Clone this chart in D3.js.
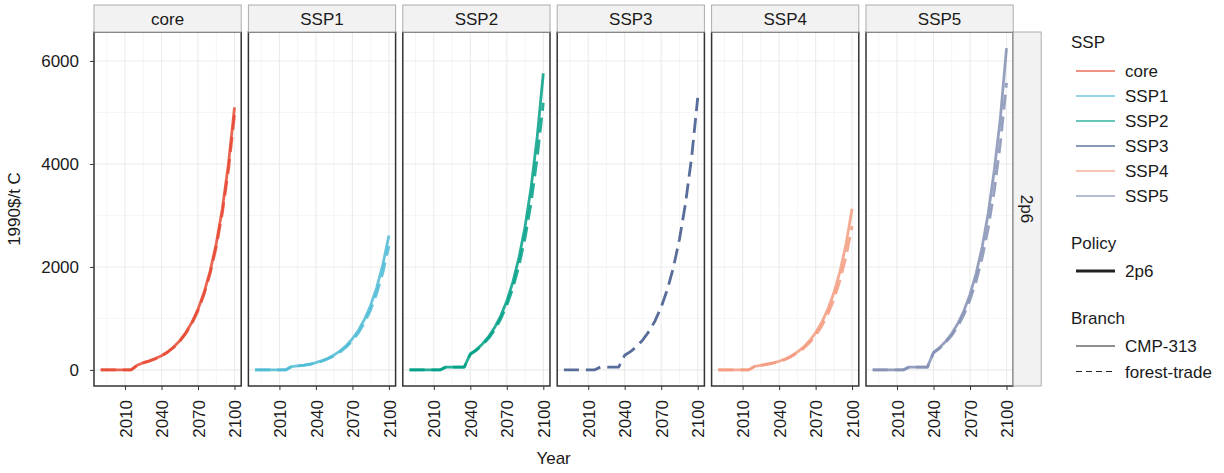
<!DOCTYPE html>
<html><head><meta charset="utf-8">
<script src="https://cdn.jsdelivr.net/npm/d3@7"></script>
<style>
body{margin:0;background:#fff;}
text{font-family:"Liberation Sans",Arial,sans-serif;fill:#1a1a1a;}
</style></head>
<body><svg id="c" width="1224" height="473"></svg>
<script>
// ---- data ----
const years = [1990,2005,2010,2015,2020,2025,2030,2035,2040,2045,2050,2055,2060,2065,2070,2075,2080,2085,2090,2095,2100];
const ssps = ["core","SSP1","SSP2","SSP3","SSP4","SSP5"];
const sspColors = ["#E64B35","#4DBBD5","#00A087","#3C5488","#F39B7F","#8491B4"];
const branches = ["CMP-313","forest-trade"];
const policies = ["2p6"];
const xTicks = [2010,2040,2070,2100];
const yTicks = [0,2000,4000,6000];

const core_CMP313   = [0,0,0,0,90,140,175,220,275,350,445,568,725,925,1180,1507,1923,2454,3131,3996,5100];
const core_forest   = [0,0,0,0,88,138,172,216,270,343,436,556,709,904,1152,1470,1875,2390,3045,3880,4950];
const SSP1_CMP313   = [0,0,0,0,65,80,92,110,140,179,228,291,371,474,604,771,984,1256,1603,2045,2610];
const SSP1_forest   = [0,0,0,0,63,78,89,106,134,170,216,275,350,445,566,720,917,1167,1485,1890,2405];
const SSP2_CMP313   = [0,0,0,0,55,55,55,55,310,396,505,644,822,1049,1339,1708,2180,2782,3550,4530,5760];
const SSP2_forest   = [0,0,0,0,55,55,55,55,300,381,483,613,778,988,1254,1591,2019,2562,3251,4126,5185];
const SSP3_forest   = [0,0,0,0,55,55,55,55,285,360,460,587,749,956,1220,1557,1987,2536,3236,4130,5282];
const SSP4_CMP313   = [0,0,0,0,70,90,112,135,167,213,272,347,443,565,721,920,1174,1498,1911,2439,3130];
const SSP4_forest   = [0,0,0,0,68,87,108,130,160,203,258,327,415,527,669,849,1077,1367,1735,2202,2793];
const SSP5_CMP313   = [0,0,0,0,55,55,55,55,340,434,553,706,901,1149,1467,1871,2388,3047,3888,4900,6250];
const SSP5_forest   = [0,0,0,0,55,55,55,55,330,418,529,670,848,1073,1359,1720,2178,2757,3490,4418,5573];

const series = [
  {ssp:"core", branch:"CMP-313", values:core_CMP313},
  {ssp:"core", branch:"forest-trade", values:core_forest},
  {ssp:"SSP1", branch:"CMP-313", values:SSP1_CMP313},
  {ssp:"SSP1", branch:"forest-trade", values:SSP1_forest},
  {ssp:"SSP2", branch:"CMP-313", values:SSP2_CMP313},
  {ssp:"SSP2", branch:"forest-trade", values:SSP2_forest},
  {ssp:"SSP3", branch:"forest-trade", values:SSP3_forest},
  {ssp:"SSP4", branch:"CMP-313", values:SSP4_CMP313},
  {ssp:"SSP4", branch:"forest-trade", values:SSP4_forest},
  {ssp:"SSP5", branch:"CMP-313", values:SSP5_CMP313},
  {ssp:"SSP5", branch:"forest-trade", values:SSP5_forest}
];

// ---- layout ----
const FS = 17;
const svg = d3.select("#c");
const panelLeft = 94, panelW = 147.2, panelGap = 7.2;
const panelTop = 32, panelBot = 386, stripTop = 5;
const color = d3.scaleOrdinal().domain(ssps).range(sspColors);
const dashOf = b => b === "forest-trade" ? "15,7" : null;

const xMin = d3.min(years), xMax = d3.max(years);
const xPad = (xMax - xMin) * 0.05;
const allVals = series.flatMap(s => s.values);
const yMin = d3.min(allVals), yMax = d3.max(allVals);
const yPad = (yMax - yMin) * 0.05;
const y = d3.scaleLinear().domain([yMin - yPad, yMax + yPad]).range([panelBot, panelTop]);
const yMinor = [1000,3000,5000];
const xMinor = [1995,2025,2055,2085];

ssps.forEach((s, i) => {
  const x0 = panelLeft + i * (panelW + panelGap);
  const x = d3.scaleLinear().domain([xMin - xPad, xMax + xPad]).range([x0, x0 + panelW]);
  const g = svg.append("g");
  g.append("rect").attr("x", x0).attr("y", panelTop).attr("width", panelW).attr("height", panelBot - panelTop).attr("fill", "#fff");
  yMinor.forEach(v => g.append("line").attr("x1", x0).attr("x2", x0 + panelW).attr("y1", y(v)).attr("y2", y(v)).attr("stroke", "#F3F3F3").attr("stroke-width", 0.8));
  xMinor.forEach(v => g.append("line").attr("y1", panelTop).attr("y2", panelBot).attr("x1", x(v)).attr("x2", x(v)).attr("stroke", "#F3F3F3").attr("stroke-width", 0.8));
  yTicks.forEach(v => g.append("line").attr("x1", x0).attr("x2", x0 + panelW).attr("y1", y(v)).attr("y2", y(v)).attr("stroke", "#EBEBEB").attr("stroke-width", 1.1));
  xTicks.forEach(v => g.append("line").attr("y1", panelTop).attr("y2", panelBot).attr("x1", x(v)).attr("x2", x(v)).attr("stroke", "#EBEBEB").attr("stroke-width", 1.1));

  const line = d3.line().x((d, k) => x(years[k])).y(d => y(d));
  series.filter(d => d.ssp === s).forEach(d => {
    g.append("path").attr("d", line(d.values)).attr("fill", "none")
      .attr("stroke", color(s)).attr("stroke-opacity", 0.85).attr("stroke-width", 2.8)
      .attr("stroke-dasharray", dashOf(d.branch)).attr("stroke-linejoin", "round");
  });

  g.append("rect").attr("x", x0).attr("y", panelTop).attr("width", panelW).attr("height", panelBot - panelTop)
    .attr("fill", "none").attr("stroke", "#333").attr("stroke-width", 1.5);

  g.append("rect").attr("x", x0).attr("y", stripTop).attr("width", panelW).attr("height", panelTop - stripTop)
    .attr("fill", "#F2F2F2").attr("stroke", "#ABABAB").attr("stroke-width", 1);
  g.append("text").attr("x", x0 + panelW / 2).attr("y", (stripTop + panelTop) / 2)
    .attr("dy", "0.36em").attr("text-anchor", "middle").attr("font-size", FS).text(s);

  const xa = g.append("g").attr("transform", `translate(0,${panelBot})`)
    .call(d3.axisBottom(x).tickValues(xTicks).tickSize(4).tickPadding(3).tickFormat(d3.format("d")));
  xa.select(".domain").remove();
  xa.selectAll(".tick line").attr("stroke", "#333");
  xa.selectAll("text").attr("transform", "rotate(-90)").attr("text-anchor", "end")
    .attr("x", -14).attr("y", 0).attr("dy", "0.36em").attr("font-size", FS).attr("fill", "#1a1a1a");

  if (i === 0) {
    const ya = g.append("g").attr("transform", `translate(${x0},0)`)
      .call(d3.axisLeft(y).tickValues(yTicks).tickSize(4).tickPadding(11).tickFormat(d3.format("d")));
    ya.select(".domain").remove();
    ya.selectAll(".tick line").attr("stroke", "#333");
    ya.selectAll("text").attr("font-size", FS).attr("fill", "#1a1a1a");
  }
});

const lastRight = panelLeft + 6 * panelW + 5 * panelGap;
svg.append("rect").attr("x", lastRight).attr("y", panelTop).attr("width", 28).attr("height", panelBot - panelTop)
  .attr("fill", "#F2F2F2").attr("stroke", "#ABABAB").attr("stroke-width", 1);
svg.append("text").attr("transform", `translate(${lastRight + 14},${(panelTop + panelBot) / 2}) rotate(90)`)
  .attr("text-anchor", "middle").attr("dy", "0.36em").attr("font-size", FS).text(policies[0]);

svg.append("text").attr("x", (panelLeft + lastRight) / 2).attr("y", 458).attr("dy", "0.36em").attr("text-anchor", "middle").attr("font-size", FS).text("Year");
svg.append("text").attr("transform", `translate(14,${(panelTop + panelBot) / 2}) rotate(-90)`)
  .attr("text-anchor", "middle").attr("dy", "0.36em").attr("font-size", FS).text("1990$/t C");

const lg = svg.append("g");
const keyX1 = 1076, keyX2 = 1115, labX = 1125;
lg.append("text").attr("x", 1071).attr("y", 42).attr("dy", "0.36em").attr("font-size", FS).text("SSP");
ssps.forEach((s, k) => {
  const yy = 71 + k * 25;
  lg.append("line").attr("x1", keyX1).attr("x2", keyX2).attr("y1", yy).attr("y2", yy)
    .attr("stroke", color(s)).attr("stroke-opacity", 0.6).attr("stroke-width", 1.8);
  lg.append("text").attr("x", labX).attr("y", yy).attr("dy", "0.36em").attr("font-size", FS).text(s);
});
lg.append("text").attr("x", 1071).attr("y", 243).attr("dy", "0.36em").attr("font-size", FS).text("Policy");
policies.forEach((p, k) => {
  const yy = 271 + k * 25;
  lg.append("line").attr("x1", keyX1).attr("x2", keyX2).attr("y1", yy).attr("y2", yy).attr("stroke", "#222").attr("stroke-width", 2.8);
  lg.append("text").attr("x", labX).attr("y", yy).attr("dy", "0.36em").attr("font-size", FS).text(p);
});
lg.append("text").attr("x", 1071).attr("y", 318).attr("dy", "0.36em").attr("font-size", FS).text("Branch");
branches.forEach((b, k) => {
  const yy = 346 + k * 25.5;
  lg.append("line").attr("x1", keyX1).attr("x2", keyX2).attr("y1", yy).attr("y2", yy).attr("stroke", "#222").attr("stroke-width", 1.1)
    .attr("stroke-dasharray", b === "forest-trade" ? "6,4" : null);
  lg.append("text").attr("x", labX).attr("y", yy).attr("dy", "0.36em").attr("font-size", FS).text(b);
});
</script></body></html>
